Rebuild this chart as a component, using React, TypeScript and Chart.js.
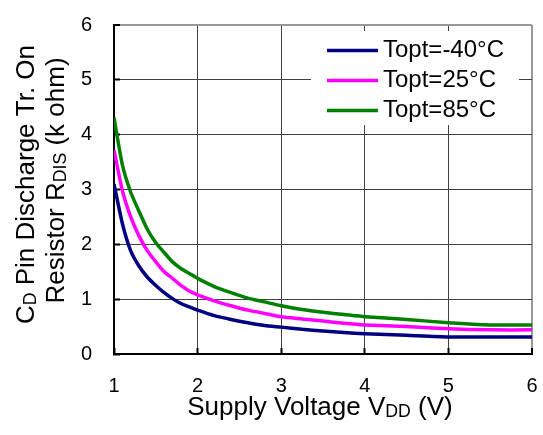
import React, { useEffect, useRef } from "react";
import { Chart, registerables } from "chart.js";

Chart.register(...registerables);

const voltages = [1.0, 1.1, 1.2, 1.3, 1.4, 1.5, 1.6, 1.7, 1.8, 1.9, 2.0, 2.2, 2.4, 2.6, 2.8, 3.0, 3.25, 3.5, 3.75, 4.0, 4.5, 5.0, 5.5, 6.0];
const rMinus40 = [3.10, 2.38, 1.88, 1.60, 1.40, 1.25, 1.12, 1.01, 0.92, 0.86, 0.80, 0.70, 0.63, 0.57, 0.52, 0.49, 0.45, 0.42, 0.39, 0.37, 0.34, 0.31, 0.31, 0.31];
const r25 = [3.72, 2.98, 2.50, 2.15, 1.88, 1.68, 1.50, 1.38, 1.25, 1.15, 1.08, 0.97, 0.88, 0.80, 0.74, 0.68, 0.64, 0.60, 0.56, 0.53, 0.50, 0.46, 0.44, 0.44];
const r85 = [4.31, 3.45, 2.95, 2.60, 2.27, 2.03, 1.85, 1.68, 1.56, 1.47, 1.38, 1.23, 1.12, 1.02, 0.95, 0.88, 0.81, 0.76, 0.72, 0.68, 0.63, 0.57, 0.53, 0.53];
const seriesLabels = ["Topt=-40°C", "Topt=25°C", "Topt=85°C"];
const seriesColors = ["#000080", "#FF00FF", "#008000"];

const FONT = "'Liberation Sans', Arial, sans-serif";

type Seg = { t: string; sub?: boolean };

function drawRich(ctx: CanvasRenderingContext2D, segs: Seg[], size: number) {
  const subSize = size * 0.68;
  let total = 0;
  const widths = segs.map((s) => {
    ctx.font = `${s.sub ? subSize : size}px ${FONT}`;
    const w = ctx.measureText(s.t).width;
    total += w;
    return w;
  });
  let x = -total / 2;
  ctx.textAlign = "left";
  ctx.textBaseline = "alphabetic";
  segs.forEach((s, i) => {
    ctx.font = `${s.sub ? subSize : size}px ${FONT}`;
    ctx.fillText(s.t, x, s.sub ? 2 : 0);
    x += widths[i];
  });
}

const decorPlugin = {
  id: "decor",
  afterDraw(chart: any) {
    const ctx: CanvasRenderingContext2D = chart.ctx;
    const area = chart.chartArea;
    const cy = (area.top + area.bottom) / 2;
    ctx.save();
    ctx.fillStyle = "#000";
    ctx.save();
    ctx.translate(34, cy - 5);
    ctx.rotate(-Math.PI / 2);
    drawRich(ctx, [{ t: "C" }, { t: "D", sub: true }, { t: " Pin Discharge Tr. On" }], 26);
    ctx.restore();
    ctx.save();
    ctx.translate(64, cy - 9);
    ctx.rotate(-Math.PI / 2);
    drawRich(ctx, [{ t: "Resistor R" }, { t: "DIS", sub: true }, { t: " (k ohm)" }], 26);
    ctx.restore();
    ctx.save();
    ctx.translate((area.left + area.right) / 2 - 3, 415);
    drawRich(ctx, [{ t: "Supply Voltage V" }, { t: "DD", sub: true }, { t: " (V)" }], 26);
    ctx.restore();
    ctx.restore();
  },
  afterDatasetsDraw(chart: any) {
    const ctx: CanvasRenderingContext2D = chart.ctx;
    ctx.save();
    ctx.fillStyle = "#fff";
    ctx.fillRect(311, 31, 208, 94);
    chart.data.datasets.forEach((ds: any, i: number) => {
      const y = 50.5 + i * 30;
      ctx.strokeStyle = ds.borderColor;
      ctx.lineWidth = 3.5;
      ctx.beginPath();
      ctx.moveTo(327, y);
      ctx.lineTo(378, y);
      ctx.stroke();
      ctx.fillStyle = "#000";
      ctx.font = `24px ${FONT}`;
      ctx.textAlign = "left";
      ctx.textBaseline = "alphabetic";
      ctx.fillText(ds.label, 383, y + 6.5);
    });
    ctx.restore();
  },
};

function zeroPad(s: any) {
  s.paddingTop = 0;
  s.paddingBottom = 0;
  s.paddingLeft = 0;
  s.paddingRight = 0;
}

export default function App() {
  const ref = useRef<HTMLCanvasElement | null>(null);
  useEffect(() => {
    document.body.style.margin = "0";
    const canvas = ref.current;
    if (!canvas) return;
    const series = [rMinus40, r25, r85];
    const gridColor = (c: any) => (c.tick && c.tick.value === 6 ? "#999" : "#404040");
    const gridWidth = (c: any) => (c.tick && c.tick.value === 6 ? 2 : 1);
    const chart = new Chart(canvas, {
      type: "line",
      data: {
        datasets: series.map((vals, i) => ({
          label: seriesLabels[i],
          data: voltages.map((v, j) => ({ x: v, y: vals[j] })),
          borderColor: seriesColors[i],
          backgroundColor: seriesColors[i],
          borderWidth: 3.5,
          pointRadius: 0,
          tension: 0.2,
          fill: false,
        })),
      },
      options: {
        responsive: false,
        animation: false,
        devicePixelRatio: 1,
        layout: { padding: { top: 25, right: 11, left: 0, bottom: 0 } },
        plugins: { legend: { display: false }, tooltip: { enabled: false }, title: { display: false } },
        scales: {
          x: {
            type: "linear",
            min: 1,
            max: 6,
            afterFit: (s: any) => { s.height = 81; zeroPad(s); },
            ticks: { stepSize: 1, color: "#000", padding: 26, font: { family: FONT, size: 20 } },
            grid: { color: gridColor, lineWidth: gridWidth, tickLength: -6, tickColor: "#000", tickWidth: 2 },
            border: { color: "#000", width: 2 },
          },
          y: {
            type: "linear",
            min: 0,
            max: 6,
            afterFit: (s: any) => { s.width = 114; zeroPad(s); },
            ticks: { stepSize: 1, color: "#000", padding: 28, font: { family: FONT, size: 20 } },
            grid: { color: gridColor, lineWidth: gridWidth, tickLength: -6, tickColor: "#000", tickWidth: 2 },
            border: { color: "#000", width: 2 },
          },
        },
      },
      plugins: [decorPlugin],
    });
    return () => chart.destroy();
  }, []);
  return (
    <div style={{ position: "absolute", left: 0, top: 0, width: 543, height: 435, background: "#fff" }}>
      <canvas ref={ref} width={543} height={435} style={{ display: "block" }} />
    </div>
  );
}
